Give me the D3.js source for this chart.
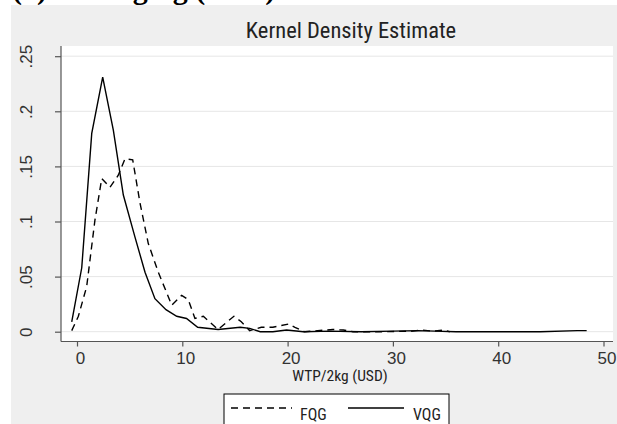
<!DOCTYPE html>
<html>
<head>
<meta charset="utf-8">
<script src="https://cdn.jsdelivr.net/npm/d3@7"></script>
<style>
  body { margin: 0; background: #fff; }
  svg { display: block; font-family: "Roboto Condensed", "Liberation Sans Narrow", "DejaVu Sans Condensed", sans-serif; }
</style>
</head>
<body>
<svg id="kde" width="617" height="424"></svg>
<script>
// tick values and labels
const xTicks = [0, 10, 20, 30, 40, 50]
const yTicks = [0, 0.05, 0.1, 0.15, 0.2, 0.25]
const yTickLabels = ["0", ".05", ".1", ".15", ".2", ".25"]

// density curves: [WTP, density]
const fqg = [
  [-0.5, 0.001], [0.13, 0.014], [0.92, 0.041], [1.7, 0.101], [2.35, 0.139],
  [3.13, 0.131], [3.92, 0.142], [4.56, 0.157], [5.29, 0.156], [5.98, 0.117],
  [6.77, 0.080], [7.72, 0.054], [9.0, 0.024], [9.94, 0.033], [10.57, 0.029],
  [11.2, 0.012], [12.0, 0.014], [13.4, 0.002], [14.9, 0.014], [15.6, 0.009],
  [16.4, 0.001], [17.5, 0.004], [18.6, 0.004], [20.1, 0.007], [20.7, 0.004],
  [21.6, 0], [24.3, 0.002], [25.3, 0.0015], [26.2, 0], [29, 0],
  [31.9, 0.0005], [32.6, 0.0015], [33.9, 0.0005], [34.8, 0.0015], [35.4, 0]
]
const vqg = [
  [-0.5, 0.009], [0.45, 0.058], [1.4, 0.180], [2.44, 0.231], [3.45, 0.183],
  [4.4, 0.124], [5.5, 0.086], [6.46, 0.054], [7.4, 0.030], [8.45, 0.020],
  [9.47, 0.014], [10.4, 0.012], [11.46, 0.004], [13.4, 0.002], [15.5, 0.004],
  [16.4, 0.003], [17.4, 0], [18.6, 0], [19.9, 0.0015], [21.5, 0],
  [24, 0.0005], [27, 0], [30, 0.0005], [32.4, 0.001], [34, 0.0005],
  [36, 0], [40, 0], [44, 0], [47.5, 0.001], [48.4, 0.001]
]

const svg = d3.select("#kde")

// cropped caption above the graph
svg.append("text")
  .attr("x", 12)
  .attr("y", -1)
  .style("font-family", "Liberation Serif, serif")
  .style("font-weight", "bold")
  .style("font-size", "30px")
  .text("(a) Packaging (USD)")

// graph background
svg.append("rect")
  .attr("x", 11).attr("y", 5)
  .attr("width", 606).attr("height", 419)
  .attr("fill", "#efefef")

let plot = {left: 61, right: 613, top: 46, bottom: 341.5}

svg.append("rect")
  .attr("x", plot.left).attr("y", plot.top)
  .attr("width", plot.right - plot.left).attr("height", plot.bottom - plot.top)
  .attr("fill", "#fff")

let x = d3.scaleLinear().domain([0, 50]).range([77, 603.5])
let y = d3.scaleLinear().domain([0, 0.25]).range([331.7, 56.2])

// grid
svg.append("g")
  .selectAll("line")
  .data(yTicks)
  .join("line")
    .attr("x1", plot.left).attr("x2", plot.right)
    .attr("y1", d => y(d)).attr("y2", d => y(d))
    .attr("stroke", "#e6e6e6")
    .attr("stroke-width", 1)

// y axis
let yAxis = d3.axisLeft(y)
  .tickValues(yTicks)
  .tickFormat((d, i) => yTickLabels[i])
  .tickSize(6)
  .tickSizeOuter(0)

let gy = svg.append("g")
  .attr("transform", `translate(${plot.left},0)`)
  .call(yAxis)
gy.select(".domain").remove()
gy.append("line")
  .attr("x1", 0).attr("x2", 0)
  .attr("y1", plot.top).attr("y2", plot.bottom)
  .attr("stroke", "#555").attr("stroke-width", 1.2)
gy.selectAll(".tick line").attr("stroke", "#555").attr("stroke-width", 1.2)
gy.selectAll(".tick text")
  .attr("x", null).attr("dy", null)
  .attr("transform", "translate(-29,0) rotate(-90)")
  .attr("text-anchor", "middle")
  .attr("fill", "#333")
  .style("font-size", "17px")

// x axis
let xAxis = d3.axisBottom(x)
  .tickValues(xTicks)
  .tickSize(5)
  .tickSizeOuter(0)

let gx = svg.append("g")
  .attr("transform", `translate(0,${plot.bottom})`)
  .call(xAxis)
gx.select(".domain").remove()
gx.append("line")
  .attr("x1", plot.left).attr("x2", plot.right)
  .attr("stroke", "#555").attr("stroke-width", 1.2)
gx.selectAll(".tick line").attr("stroke", "#555").attr("stroke-width", 1.2)
gx.selectAll(".tick text")
  .attr("y", 10).attr("dy", "0.71em")
  .attr("dx", 3)
  .attr("fill", "#333")
  .style("font-size", "17px")

svg.append("text")
  .attr("x", 340).attr("y", 381)
  .attr("text-anchor", "middle")
  .attr("fill", "#222")
  .style("font-size", "15.5px")
  .text("WTP/2kg (USD)")

svg.append("text")
  .attr("x", 351).attr("y", 38)
  .attr("text-anchor", "middle")
  .attr("fill", "#222")
  .style("font-size", "22.5px")
  .text("Kernel Density Estimate")

// curves
let line = d3.line()
  .x(d => x(d[0]))
  .y(d => y(d[1]))

svg.append("path")
  .datum(fqg)
  .attr("fill", "none")
  .attr("stroke", "#000")
  .attr("stroke-width", 1.4)
  .attr("stroke-dasharray", "7,5")
  .attr("d", line)

svg.append("path")
  .datum(vqg)
  .attr("fill", "none")
  .attr("stroke", "#000")
  .attr("stroke-width", 1.4)
  .attr("d", line)

// legend
let legend = svg.append("g")
legend.append("rect")
  .attr("x", 224).attr("y", 394)
  .attr("width", 225).attr("height", 40)
  .attr("fill", "#fff")
  .attr("stroke", "#000")
  .attr("stroke-width", 1)

const legendItems = [
  {label: "FQG", dash: "7,5", x1: 231, x2: 292, tx: 300},
  {label: "VQG", dash: null, x1: 348, x2: 404, tx: 413}
]
legendItems.forEach(d => {
  legend.append("line")
    .attr("x1", d.x1).attr("x2", d.x2)
    .attr("y1", 408).attr("y2", 408)
    .attr("stroke", "#000")
    .attr("stroke-width", 1.4)
    .attr("stroke-dasharray", d.dash)
  legend.append("text")
    .attr("x", d.tx).attr("y", 420)
    .attr("fill", "#222")
    .style("font-size", "16px")
    .text(d.label)
})
</script>
</body>
</html>
